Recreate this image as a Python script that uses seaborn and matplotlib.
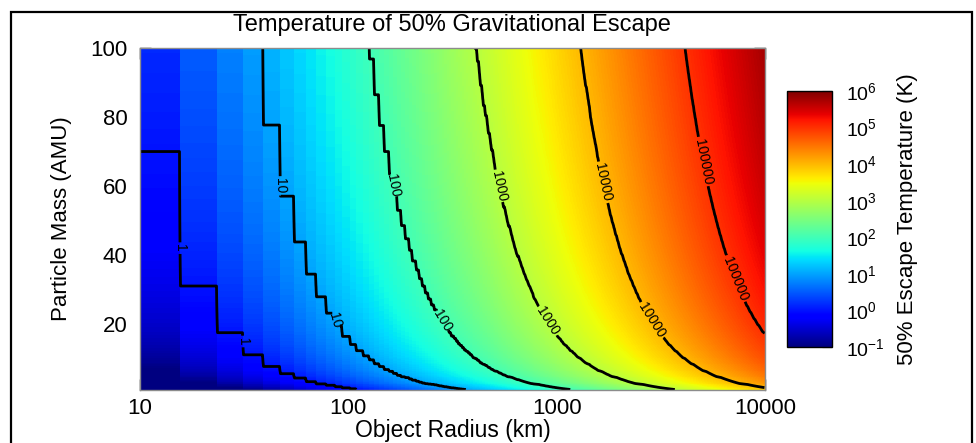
import numpy as np
import pandas as pd
import matplotlib
matplotlib.use("Agg")
import matplotlib.pyplot as plt
import seaborn as sns
from matplotlib.colors import LogNorm
from matplotlib.patches import Rectangle
from matplotlib.ticker import FixedLocator, LogLocator, LogFormatterSciNotation, NullFormatter

# --- data ---
# model grid: radius cells are 7.8125 km wide (visible blocks at small R), mass in AMU
radius_step_km = 7.8125
radius_km = radius_step_km * np.arange(1, 1281)
mass_amu = np.arange(1.0, 100.25, 0.25)

# escape temperature goes as m * R^2; the 1 K contour steps at m = 69.9 AMU, R = 15.625 km
ref_temp_k = 1.0
ref_mass_amu = 69.9
ref_radius_km = 15.625

contour_levels = [1, 10, 100, 1000, 10000, 100000]
label_radius_km = [15.6, 30.5, 46, 84, 159, 283, 526, 905, 1664, 2830, 5005, 7080]
label_mass_amu = [42, 15, 60, 21, 60, 21, 60, 21, 61, 21, 67, 33]

x_ticks = [10, 100, 1000, 10000]
y_ticks = [20, 40, 60, 80, 100]
cbar_ticks = [1e-1, 1e0, 1e1, 1e2, 1e3, 1e4, 1e5, 1e6]

temp_k = ref_temp_k * np.outer(mass_amu / ref_mass_amu, (radius_km / ref_radius_km) ** 2)

# resample onto display cells (log radius across, mass down), nearest model cell
ncol, nrow = 625, 343
r_lo, r_hi = 10, 10000
m_lo, m_hi = 1, 100
r_disp = 10 ** (np.log10(r_lo) + np.log10(r_hi / r_lo) * (np.arange(ncol) + 0.5) / ncol)
m_disp = m_hi - (m_hi - m_lo) * (np.arange(nrow) + 0.5) / nrow
ci = np.clip(np.ceil(r_disp / radius_step_km).astype(int) - 1, 0, len(radius_km) - 1)
ri = np.clip(np.round((m_disp - mass_amu[0]) / 0.25).astype(int), 0, len(mass_amu) - 1)
df = pd.DataFrame(temp_k[np.ix_(ri, ci)], index=m_disp.round(2), columns=r_disp.round(1))


def to_x(r):
    return (np.log10(r) - np.log10(r_lo)) / np.log10(r_hi / r_lo) * ncol


def to_y(m):
    return (m_hi - np.asarray(m, dtype=float)) / (m_hi - m_lo) * nrow


sns.set_style("white")
plt.rcParams["font.family"] = ["Liberation Sans", "DejaVu Sans"]
plt.rcParams["mathtext.fontset"] = "custom"
plt.rcParams["mathtext.rm"] = "Liberation Sans"
plt.rcParams["mathtext.default"] = "regular"
plt.rcParams["text.color"] = "black"
plt.rcParams["axes.labelcolor"] = "black"
plt.rcParams["xtick.color"] = "black"
plt.rcParams["ytick.color"] = "black"

fig = plt.figure(figsize=(9.76, 4.43), dpi=100)
ax = fig.add_axes([140 / 976, 1 - 390 / 443, 625 / 976, 342.5 / 443])
cax = fig.add_axes([787 / 976, 1 - 347 / 443, 45 / 976, 256 / 443])

sns.heatmap(df, ax=ax, cbar_ax=cax, cmap="jet", norm=LogNorm(1e-1, 1e6),
            xticklabels=False, yticklabels=False, rasterized=True)

xc = np.arange(ncol) + 0.5
yc = np.arange(nrow) + 0.5
cs = ax.contour(xc, yc, df.values, levels=contour_levels, colors="black", linewidths=2)
spots = list(zip(to_x(label_radius_km), to_y(label_mass_amu)))
ax.clabel(cs, fmt="%d", fontsize=10, manual=spots, inline=True, inline_spacing=2)

# axes: log radius, linear mass
ax.set_xlim(0, ncol)
ax.set_ylim(nrow, 0)
ax.set_xticks(to_x(x_ticks))
ax.set_xticklabels([str(v) for v in x_ticks])
minor_r = [k * 10 ** d for d in range(1, 4) for k in range(2, 10)]
ax.set_xticks(to_x(minor_r), minor=True)
ax.set_yticks(to_y(y_ticks))
ax.set_yticklabels([str(v) for v in y_ticks], rotation=0)
ax.set_yticks(to_y(np.arange(5, 100, 5)), minor=True)
ax.tick_params(which="both", direction="in", top=True, right=True, bottom=True, left=True,
               colors="black", width=1)
ax.tick_params(which="major", length=8, labelsize=16)
ax.tick_params(axis="x", which="major", pad=6)
ax.tick_params(axis="y", which="major", pad=9)
ax.tick_params(which="minor", length=4)
for s in ax.spines.values():
    s.set_visible(True)
    s.set_color("#8c8c8c")
    s.set_linewidth(1)

ax.set_xlabel("Object Radius (km)", fontsize=16.5, va="center", color="black")
ax.xaxis.set_label_coords(0.5, -0.118)
ax.set_ylabel("Particle Mass (AMU)", fontsize=16, va="center", color="black")
ax.yaxis.set_label_coords(-0.125, 0.5)

fig.text(452 / 976, 1 - 25 / 443, "Temperature of 50% Gravitational Escape",
         ha="center", va="center", fontsize=17, color="black")

# colorbar
cb = ax.collections[0].colorbar
cb.outline.set_linewidth(1)
cb.outline.set_edgecolor("black")
cax.yaxis.set_major_locator(FixedLocator(cbar_ticks))
cax.yaxis.set_major_formatter(LogFormatterSciNotation())
cax.yaxis.set_minor_locator(LogLocator(base=10, subs=np.arange(2, 10), numticks=20))
cax.yaxis.set_minor_formatter(NullFormatter())
cax.tick_params(which="both", direction="in", right=True, left=False, colors="black", width=0.8)
cax.tick_params(which="major", length=7, labelsize=14, pad=10)
cax.tick_params(which="minor", length=4)
cb.set_label("50% Escape Temperature (K)", fontsize=16, va="center", color="black")
cax.yaxis.set_label_coords(2.67, 0.5)

fig.patches.append(Rectangle((11 / 976, -0.1), 961 / 976, 1 - 12 / 443 + 0.1,
                             transform=fig.transFigure, fill=False, lw=1.6,
                             edgecolor="black"))

fig.savefig("out.png", dpi=100)
